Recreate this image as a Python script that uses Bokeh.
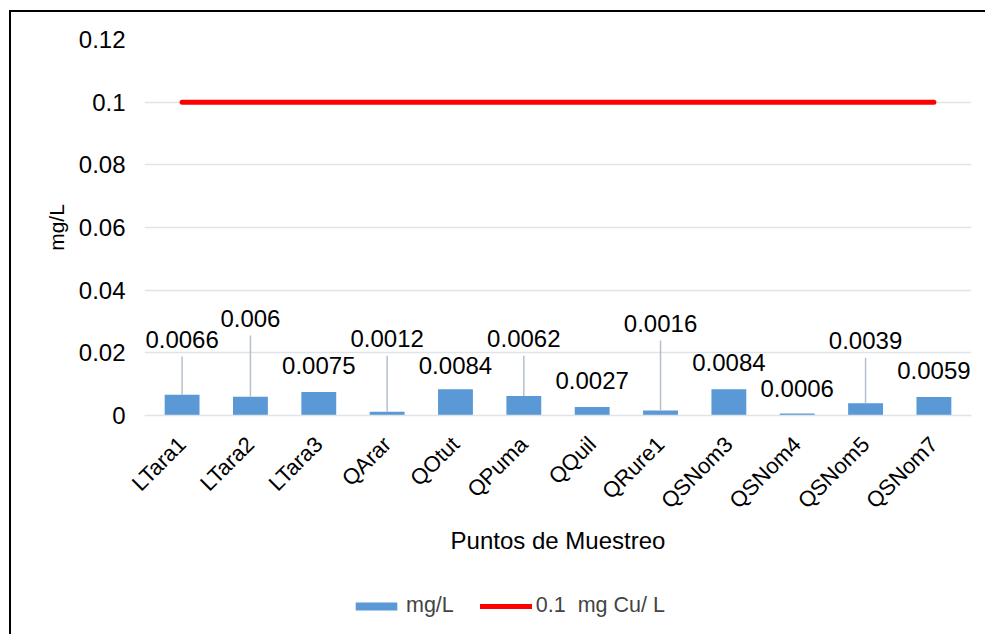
import math
from bokeh.plotting import figure
from bokeh.layouts import column
from bokeh.models import ColumnDataSource, Legend, LegendItem, FixedTicker, Range1d, FactorRange
from bokeh.core.properties import value
from bokeh.embed import file_html
from bokeh.resources import INLINE

categories = ["LTara1", "LTara2", "LTara3", "QArar", "QOtut", "QPuma", "QQuil",
              "QRure1", "QSNom3", "QSNom4", "QSNom5", "QSNom7"]
values = [0.0066, 0.006, 0.0075, 0.0012, 0.0084, 0.0062, 0.0027, 0.0016, 0.0084, 0.0006, 0.0039, 0.0059]
labels = ["0.0066", "0.006", "0.0075", "0.0012", "0.0084", "0.0062", "0.0027", "0.0016",
          "0.0084", "0.0006", "0.0039", "0.0059"]
label_y = [0.0243, 0.0310, 0.0160, 0.0246, 0.0160, 0.0246, 0.0112, 0.0294, 0.0169, 0.0086, 0.0239, 0.0144]
limit = [0.1] * len(categories)
y_ticks = [0, 0.02, 0.04, 0.06, 0.08, 0.1, 0.12]
y_tick_labels = ["0", "0.02", "0.04", "0.06", "0.08", "0.1", "0.12"]
legend_labels = ["mg/L", "0.1  mg Cu/ L"]

FONT = "Liberation Sans"
FS = "24px"
BAR_COLOR = "#5a98d6"
LINE_COLOR = "#ff0000"

xr = FactorRange(*categories, range_padding=0.05, range_padding_units="absolute")
p = figure(width=974, height=560, x_range=xr, y_range=Range1d(0, 0.12),
           output_backend="svg", toolbar_location=None,
           min_border_left=133, min_border_right=14, min_border_top=27, min_border_bottom=157)
p.outline_line_color = None
p.background_fill_color = "white"
p.border_fill_color = "white"

src = ColumnDataSource(dict(cat=categories, val=values, lab=labels, ly=label_y, lim=limit))

p.vbar(x="cat", top="val", width=0.51, source=src, fill_color=BAR_COLOR, line_color=None)

# leader lines for labels placed far from their bar
lx, ly0, ly1 = [], [], []
for c, v, y in zip(categories, values, label_y):
    if y - v > 0.012:
        lx.append(c)
        ly0.append(v)
        ly1.append(y - 0.0055)
p.segment(x0=lx, y0=ly0, x1=lx, y1=ly1, line_color="#b4bfcc", line_width=1.5)

p.text(x="cat", y="ly", text="lab", source=src, text_align="center", text_baseline="middle",
       text_font=value(FONT), text_font_size=FS, text_color="black")

p.line(x="cat", y="lim", source=src, line_color=LINE_COLOR, line_width=5, line_cap="round")

p.xgrid.grid_line_color = None
p.ygrid.grid_line_color = "#dfe3ea"
p.ygrid.grid_line_width = 1.5
p.yaxis.ticker = FixedTicker(ticks=y_ticks)
p.yaxis.major_label_overrides = {t: l for t, l in zip(y_ticks, y_tick_labels)}
p.yaxis.axis_line_color = None
p.yaxis.major_tick_line_color = None
p.yaxis.minor_tick_line_color = None
p.yaxis.major_tick_out = 0
p.yaxis.major_label_standoff = 19
p.yaxis.major_label_text_font = FONT
p.yaxis.major_label_text_font_size = FS
p.yaxis.major_label_text_color = "black"
p.yaxis.axis_label = "mg/L"
p.yaxis.axis_label_text_font = FONT
p.yaxis.axis_label_text_font_size = "21px"
p.yaxis.axis_label_text_font_style = "normal"
p.yaxis.axis_label_text_color = "black"
p.yaxis.axis_label_standoff = 8

p.xaxis.axis_line_color = "#dfe3ea"
p.xaxis.axis_line_width = 1.5
p.xaxis.major_tick_line_color = None
p.xaxis.minor_tick_line_color = None
p.xaxis.major_tick_out = 0
p.xaxis.major_label_orientation = math.pi / 4
p.xaxis.major_label_text_font = FONT
p.xaxis.major_label_text_font_size = "22px"
p.xaxis.major_label_text_color = "black"
p.xaxis.major_label_standoff = 25
p.xaxis.axis_label = "Puntos de Muestreo"
p.xaxis.axis_label_text_font = FONT
p.xaxis.axis_label_text_font_size = FS
p.xaxis.axis_label_text_font_style = "normal"
p.xaxis.axis_label_text_color = "black"
p.xaxis.axis_label_standoff = 2

# legend strip (its frame aligns with the main plot's frame in the column)
lg = figure(width=974, height=62, x_range=Range1d(0, 1), y_range=Range1d(0, 1),
            output_backend="svg", toolbar_location=None,
            min_border_left=0, min_border_right=0, min_border_top=0, min_border_bottom=0)
lg.axis.visible = False
lg.grid.visible = False
lg.outline_line_color = None
lg.border_fill_color = "white"
r_bar = lg.vbar(x=[-5], top=[-5], width=0.5, fill_color=BAR_COLOR, line_color=None)
r_line = lg.line(x=[-5, -4], y=[-5, -5], line_color=LINE_COLOR, line_width=5, line_cap="round")
legend = Legend(items=[LegendItem(label=legend_labels[0], renderers=[r_bar]),
                       LegendItem(label=legend_labels[1], renderers=[r_line])],
                orientation="horizontal", location=(206, 16),
                glyph_width=52, glyph_height=10, label_text_font=FONT,
                label_text_font_size="21.5px", label_standoff=4, spacing=26,
                border_line_color=None, background_fill_alpha=0, padding=0, margin=0)
lg.add_layout(legend, "center")

layout = column(p, lg, spacing=0)
layout.styles = {"border-left": "2px solid black", "border-top": "2px solid black",
                 "margin-left": "9px", "margin-top": "10px"}

open("out.html", "w").write(file_html(layout, INLINE))
